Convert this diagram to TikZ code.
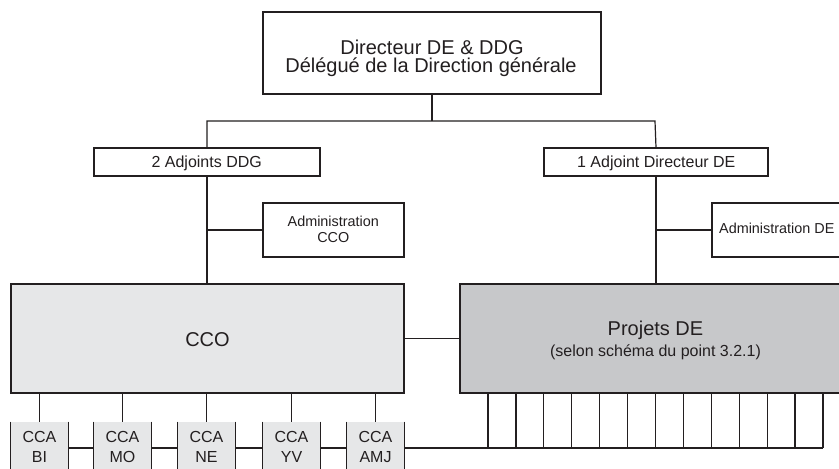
\documentclass[tikz,border=0pt]{standalone}
\usepackage{fontspec}
\setmainfont{Liberation Sans}
\definecolor{ink}{HTML}{231F20}
\definecolor{lightfill}{HTML}{E6E7E8}
\definecolor{darkfill}{HTML}{C7C8CA}
\tikzset{
  box/.style={draw=ink, line width=0.9pt, rectangle, inner sep=0pt},
  ccabox/.style={fill=lightfill, rectangle, inner sep=0pt, minimum width=42.75pt, minimum height=39pt},
  txt/.style={anchor=base, inner sep=0pt, text=ink},
  big/.style={font=\fontsize{15}{18}\selectfont},
  mid/.style={font=\fontsize{12}{15}\selectfont},
  small/.style={font=\fontsize{10.8}{13}\selectfont},
  conn/.style={draw=ink, line width=0.9pt}
}
\begin{document}
\begin{tikzpicture}[x=0.75pt, y=-0.75pt]
\useasboundingbox (0,0) rectangle (839,468);
\clip (0,0) rectangle (839,468);
\fill[white] (0,0) rectangle (839,468);

% boxes
\node[box, minimum width=253.5pt, minimum height=61.5pt] (top) at (432,53) {};
\node[box, minimum width=169.5pt, minimum height=21pt] (adjddg) at (207,162) {};
\node[box, minimum width=168pt, minimum height=21pt] (adjde) at (656,162) {};
\node[box, minimum width=105.75pt, minimum height=40.5pt] (admcco) at (333.5,230) {};
\node[box, minimum width=97.5pt, minimum height=40.5pt] (admde) at (777,230) {};
\node[box, fill=lightfill, minimum width=294.75pt, minimum height=81.75pt] (cco) at (207.5,338.5) {};
\node[box, fill=darkfill, minimum width=292.5pt, minimum height=81.75pt] (projets) at (655,338.5) {};

\node[ccabox] (cca1) at (39.5,448) {};
\node[ccabox] (cca2) at (122.5,448) {};
\node[ccabox] (cca3) at (206.5,448) {};
\node[ccabox] (cca4) at (291.5,448) {};
\node[ccabox] (cca5) at (375.5,448) {};
\foreach \c in {cca1,cca2,cca3,cca4,cca5}{
  \draw[conn] (\c.north west) -- (\c.south west);
  \draw[conn] (\c.north east) -- (\c.south east);
}

% texts
\node[txt, big] (t1) at (432,54) {Directeur DE \& DDG};
\node[txt, big] (t2) at (431,72.7) {Délégué de la Direction générale};
\node[txt, mid] (t3) at (206.7,167.3) {2 Adjoints DDG};
\node[txt, mid] (t4) at (656.3,167.3) {1 Adjoint Directeur DE};
\node[txt, small] (t5) at (333.3,226.7) {Administration};
\node[txt, small] (t6) at (333.3,242.7) {CCO};
\node[txt, small] (t7) at (776.8,233.3) {Administration DE};
\node[txt, big] (t8) at (207.5,346) {CCO};
\node[txt, big] (t9) at (655.5,335.7) {Projets DE};
\node[txt, mid] (t10) at (655.5,356) {(selon schéma du point 3.2.1)};
\node[txt, mid] (c1a) at (39.5,442) {CCA};
\node[txt, mid] (c1b) at (39.5,462) {BI};
\node[txt, mid] (c2a) at (122.5,442) {CCA};
\node[txt, mid] (c2b) at (122.5,462) {MO};
\node[txt, mid] (c3a) at (206.5,442) {CCA};
\node[txt, mid] (c3b) at (206.5,462) {NE};
\node[txt, mid] (c4a) at (291.5,442) {CCA};
\node[txt, mid] (c4b) at (291.5,462) {YV};
\node[txt, mid] (c5a) at (375.5,442) {CCA};
\node[txt, mid] (c5b) at (375.5,462) {AMJ};

% connectors
\coordinate (busL) at (207,121);
\coordinate (busR) at (655,121);
\draw[conn] (top.south) -- (top.south |- busL);
\draw[conn] (adjddg.north) -- (adjddg.north |- busL) -- (busR) -- (adjde.north);
\draw[conn] (adjddg.south) -- (adjddg.south |- cco.north);
\draw[conn] (admcco.west) -- (admcco.west -| adjddg.south);
\draw[conn] (adjde.south) -- (adjde.south |- projets.north);
\draw[conn] (admde.west) -- (admde.west -| adjde.south);
\draw[conn] (cco.east) -- (projets.west);
\foreach \c in {cca1,cca2,cca3,cca4,cca5}{
  \draw[conn] (\c.north |- cco.south) -- (\c.north);
}
\draw[conn] (cca1.east) -- (cca2.west);
\draw[conn] (cca2.east) -- (cca3.west);
\draw[conn] (cca3.east) -- (cca4.west);
\draw[conn] (cca4.east) -- (cca5.west);
\coordinate (pend) at (823,448);
\draw[conn] (cca5.east) -- (pend);
\foreach \i in {0,...,12}{
  \coordinate (p\i) at ({488+27.917*\i},448);
  \draw[conn] (p\i |- projets.south) -- (p\i);
}
\end{tikzpicture}
\end{document}
